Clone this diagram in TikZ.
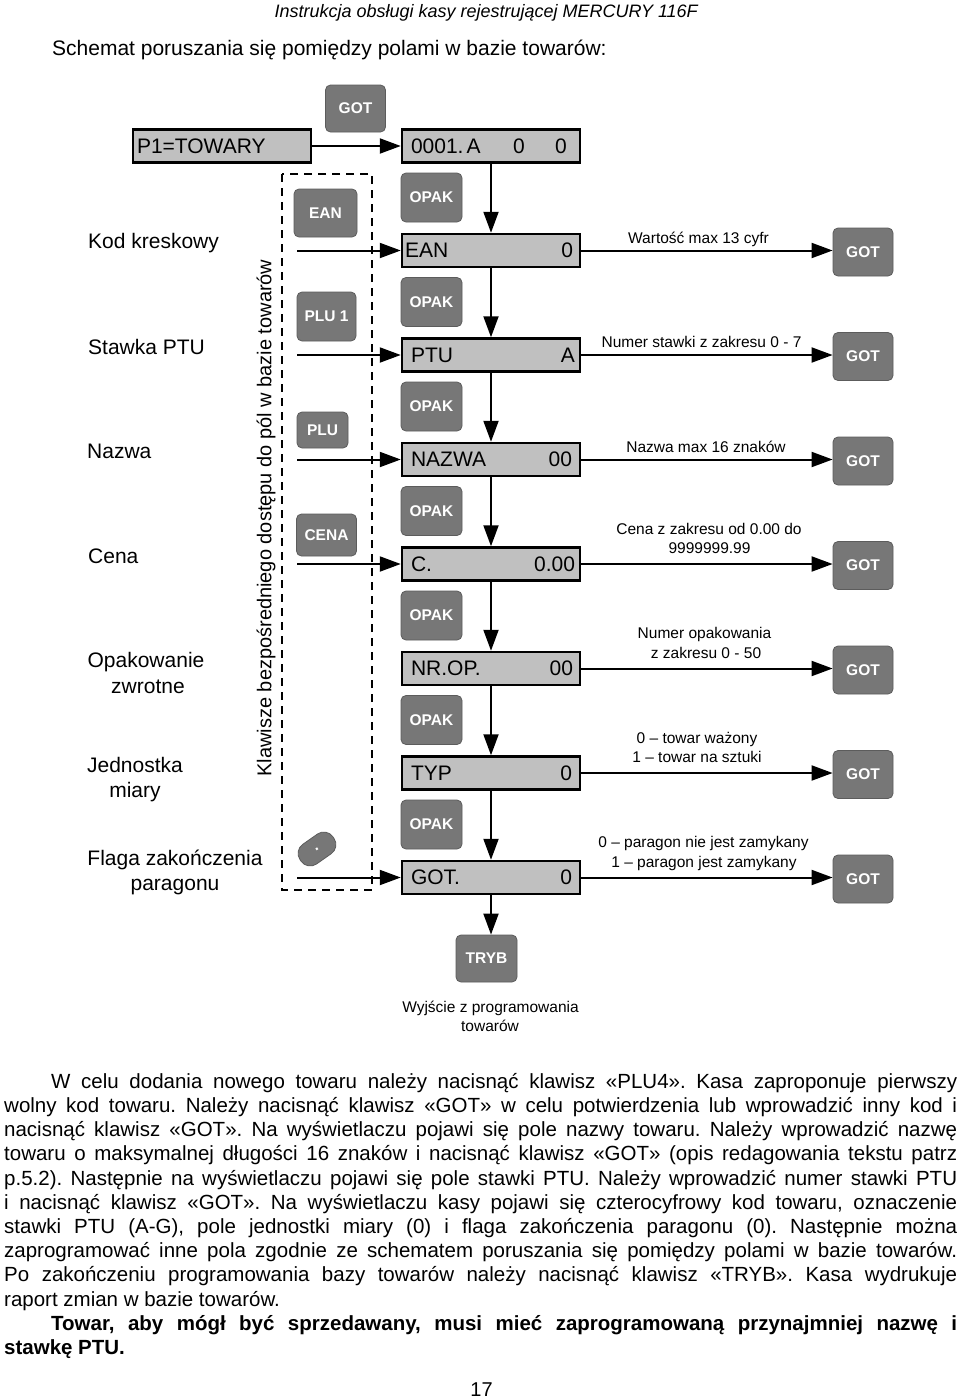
\documentclass[tikz,border=0pt]{standalone}
\usepackage{fontspec}
\setmainfont{Liberation Sans}
\usetikzlibrary{arrows.meta}
\definecolor{keyfill}{HTML}{777777}
\definecolor{keyedge}{HTML}{5C5C5C}
\definecolor{boxfill}{HTML}{C0C0C0}
\frenchspacing
\begin{document}
\begin{tikzpicture}[x=1pt,y=-1pt,
  dispbox/.style={draw=black, line width=2.5pt, fill=boxfill, minimum width=178pt, minimum height=33pt, inner sep=0pt, font=\fontsize{21}{25}\selectfont},
  keybox/.style={draw=keyedge, line width=0.8pt, fill=keyfill, rounded corners=5pt, text=white, font=\fontsize{15.5}{18}\selectfont\bfseries, inner sep=0pt, minimum width=61pt, minimum height=49pt},
  arr/.style={line width=2pt, -{Triangle[length=21pt,width=15pt]}},
  lbl/.style={font=\fontsize{15.5}{19}\selectfont, anchor=base, inner sep=0pt},
  side/.style={font=\fontsize{21}{25}\selectfont, inner sep=0pt},
  dashbox/.style={draw=black, line width=2.2pt, dash pattern=on 8pt off 6pt},
]
\fill[white] (0,0) rectangle (960,1400);
\useasboundingbox (0,0) rectangle (960,1400);

% header
\node[anchor=base east, inner sep=0pt, font=\fontsize{18}{20}\selectfont\itshape] (hdr) at (698,17) {Instrukcja obsługi kasy rejestrującej MERCURY 116F};
\node[anchor=base west, inner sep=0pt, font=\fontsize{21}{24}\selectfont] (title) at (52,55) {Schemat poruszania się pomiędzy polami w bazie towarów:};

% top row
\node[keybox, minimum width=60pt, minimum height=47pt] (gtop) at (355.5,108.5) {GOT};
\node[dispbox] (p1) at (222,146) {\hbox to 178pt{\hspace{4pt}P1=TOWARY\hfil}};
\node[dispbox] (b0) at (491,146) {\hbox to 178pt{\hspace{9pt}0001.\hspace{3pt}A\hfill\makebox[0pt]{0}\hspace{42pt}\makebox[0pt]{0}\hspace{19pt}}};
\draw[arr] (p1) -- (b0);

% dashed frame and vertical caption
\draw[dashbox] (282,174) rectangle (372,890);
\node[rotate=90, font=\fontsize{20}{24}\selectfont, inner sep=0pt] (vt) at (266,518) {Klawisze bezpośredniego dostępu do pól w bazie towarów};

% display boxes
\node[dispbox] (b1) at (491,250.5) {\hbox to 178pt{\hspace{3pt}EAN\hfill 0\hspace{7pt}}};
\node[dispbox] (b2) at (491,355) {\hbox to 178pt{\hspace{9pt}PTU\hfill A\hspace{5pt}}};
\node[dispbox] (b3) at (491,459.5) {\hbox to 178pt{\hspace{9pt}NAZWA\hfill 00\hspace{8pt}}};
\node[dispbox] (b4) at (491,564) {\hbox to 178pt{\hspace{9pt}C.\hfill 0.00\hspace{5pt}}};
\node[dispbox] (b5) at (491,668.5) {\hbox to 178pt{\hspace{9pt}NR.OP.\hfill 00\hspace{7pt}}};
\node[dispbox] (b6) at (491,773) {\hbox to 178pt{\hspace{9pt}TYP\hfill 0\hspace{8pt}}};
\node[dispbox] (b7) at (491,877.5) {\hbox to 178pt{\hspace{9pt}GOT.\hfill 0\hspace{8pt}}};

% OPAK keys and right GOT keys
\foreach \n/\y in {1/250.5,2/355,3/459.5,4/564,5/668.5,6/773,7/877.5}{
  \node[keybox] (o\n) at (431.5,\y-53) {OPAK};
  \node[keybox, minimum width=60pt, minimum height=48pt] (g\n) at (863,\y+1.5) {GOT};
}

% vertical arrows
\draw[arr] (b0) -- (b1);
\draw[arr] (b1) -- (b2);
\draw[arr] (b2) -- (b3);
\draw[arr] (b3) -- (b4);
\draw[arr] (b4) -- (b5);
\draw[arr] (b5) -- (b6);
\draw[arr] (b6) -- (b7);

% right arrows
\foreach \n in {1,...,7}{
  \draw[arr] (b\n.east) -- (b\n.east -| g\n.west);
}

% left keys
\node[keybox, minimum width=63pt, minimum height=48pt] (k1) at (325.5,213) {EAN};
\node[keybox, minimum width=59pt, minimum height=49pt] (k2) at (326.5,316.5) {PLU 1};
\node[keybox, minimum width=51pt, minimum height=36pt] (k3) at (322.5,430) {PLU};
\node[keybox, minimum width=60pt, minimum height=42pt] (k4) at (326.5,535) {CENA};
\node[keybox, rotate=35, minimum width=40pt, minimum height=24pt, rounded corners=11pt] (k7) at (317,849) {.};

% left arrows
\coordinate (s1) at (297,250.5);
\coordinate (s2) at (297,355);
\coordinate (s3) at (297,459.5);
\coordinate (s4) at (297,564);
\coordinate (s7) at (297,877.5);
\draw[arr] (s1) -- (b1.west);
\draw[arr] (s2) -- (b2.west);
\draw[arr] (s3) -- (b3.west);
\draw[arr] (s4) -- (b4.west);
\draw[arr] (s7) -- (b7.west);

% left labels
\node[side, anchor=base west] (t1) at (88,248) {Kod kreskowy};
\node[side, anchor=base west] (t2) at (88,354) {Stawka PTU};
\node[side, anchor=base west] (t3) at (87,458) {Nazwa};
\node[side, anchor=base west] (t4) at (88,563) {Cena};
\node[side, anchor=base] (t5a) at (146,667) {Opakowanie};
\node[side, anchor=base] (t5b) at (148,693) {zwrotne};
\node[side, anchor=base] (t6a) at (135,772) {Jednostka};
\node[side, anchor=base] (t6b) at (135,797) {miary};
\node[side, anchor=base] (t7a) at (175,865) {Flaga zakończenia};
\node[side, anchor=base] (t7b) at (175,890) {paragonu};

% right labels
\node[lbl] (r1) at (698.5,243.5) {Wartość max 13 cyfr};
\node[lbl] (r2) at (701.5,347.5) {Numer stawki z zakresu 0 - 7};
\node[lbl] (r3) at (706,452.5) {Nazwa max 16 znaków};
\node[lbl] (r4a) at (709,534.5) {Cena z zakresu od 0.00 do};
\node[lbl] (r4b) at (709.5,553.5) {9999999.99};
\node[lbl] (r5a) at (704.5,638.5) {Numer opakowania};
\node[lbl] (r5b) at (706,658.5) {z zakresu 0 - 50};
\node[lbl] (r6a) at (697,743.5) {0 – towar ważony};
\node[lbl] (r6b) at (697,762.5) {1 – towar na sztuki};
\node[lbl] (r7a) at (703.5,847.5) {0 – paragon nie jest zamykany};
\node[lbl] (r7b) at (704,867.5) {1 – paragon jest zamykany};

% exit
\node[keybox, minimum width=61pt, minimum height=47pt] (tryb) at (486.5,958.5) {TRYB};
\draw[arr] (b7.south) -- (b7.south |- tryb.north);
\node[lbl] (ex1) at (490.5,1012.5) {Wyjście z programowania};
\node[lbl] (ex2) at (490,1031.5) {towarów};

% paragraph
\node[anchor=north west, inner sep=0pt, text width=953pt, align=justify, font=\fontsize{20.5}{24.2}\selectfont] (para) at (4,1073) {\frenchspacing\parindent=0pt\tolerance=10000\hyphenpenalty=10000\exhyphenpenalty=10000\hspace*{47pt}W celu dodania nowego towaru należy nacisnąć klawisz «PLU4». Kasa zaproponuje pierwszy\linebreak wolny kod towaru. Należy nacisnąć klawisz «GOT» w celu potwierdzenia lub wprowadzić inny kod i\linebreak nacisnąć klawisz «GOT». Na wyświetlaczu pojawi się pole nazwy towaru. Należy wprowadzić nazwę\linebreak towaru o maksymalnej długości 16 znaków i nacisnąć klawisz «GOT» (opis redagowania tekstu patrz\linebreak p.5.2). Następnie na wyświetlaczu pojawi się pole stawki PTU. Należy wprowadzić numer stawki PTU\linebreak i nacisnąć klawisz «GOT». Na wyświetlaczu kasy pojawi się czterocyfrowy kod towaru, oznaczenie\linebreak stawki PTU (A-G), pole jednostki miary (0) i flaga zakończenia paragonu (0). Następnie można\linebreak zaprogramować inne pola zgodnie ze schematem poruszania się pomiędzy polami w bazie towarów.\linebreak Po zakończeniu programowania bazy towarów należy nacisnąć klawisz «TRYB». Kasa wydrukuje\linebreak raport zmian w bazie towarów.\par
\hspace*{47pt}\textbf{Towar, aby mógł być sprzedawany, musi mieć zaprogramowaną przynajmniej nazwę i\linebreak stawkę PTU.}\par};

\node[font=\fontsize{20}{24}\selectfont, inner sep=0pt] (pg) at (481.5,1390) {17};
\end{tikzpicture}
\end{document}
